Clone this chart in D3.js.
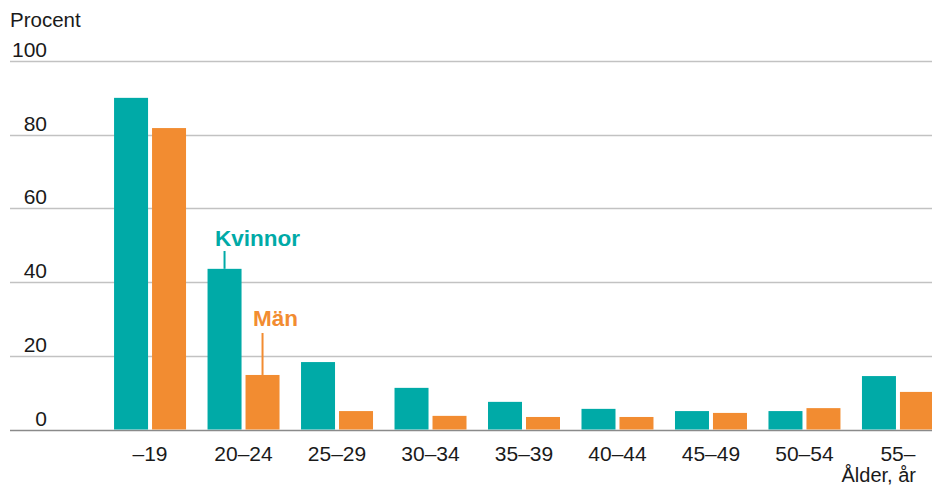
<!DOCTYPE html>
<html>
<head>
<meta charset="utf-8">
<script src="https://cdn.jsdelivr.net/npm/d3@7/dist/d3.min.js"></script>
<style>
  html, body { margin: 0; padding: 0; background: #fff; }
  svg { display: block; font-family: Helvetica, Arial, "Liberation Sans", sans-serif; }
</style>
</head>
<body>
<svg id="chart" width="932" height="491"></svg>
<script>
// data
const ageGroups = ['–19', '20–24', '25–29', '30–34', '35–39', '40–44', '45–49', '50–54', '55–'];
const kvinnor = [90.0, 43.6, 18.3, 11.3, 7.5, 5.6, 5.0, 5.0, 14.5];
const man = [81.8, 14.8, 5.0, 3.7, 3.4, 3.4, 4.5, 5.8, 10.2];
const yTicks = [0, 20, 40, 60, 80, 100];
const seriesNames = ['Kvinnor', 'Män'];
const colors = { 'Kvinnor': '#00aaa7', 'Män': '#f28c31' };

const svg = d3.select('#chart');
const width = 932;

let y = d3.scaleLinear()
  .domain([0, 100])
  .range([429.5, 61]);

let x = d3.scaleBand()
  .domain(ageGroups)
  .range([103.3, 944.7])
  .paddingInner(0.23)
  .paddingOuter(0.115);

let xs = d3.scaleBand()
  .domain(seriesNames)
  .range([0, x.bandwidth()])
  .paddingInner(0.105);

// gridlines
svg.append('g')
  .selectAll('line')
  .data(yTicks)
  .enter()
  .append('line')
  .attr('x1', 10)
  .attr('x2', width)
  .attr('y1', d => Math.round(y(d)) + 0.5)
  .attr('y2', d => Math.round(y(d)) + 0.5)
  .attr('stroke', d => d === 0 ? '#8a8a8a' : '#c2c2c2')
  .attr('stroke-width', 1.5);

// y labels sit on top of the gridlines
svg.append('g')
  .selectAll('text')
  .data(yTicks)
  .enter()
  .append('text')
  .attr('x', 47)
  .attr('y', d => y(d) - 4)
  .attr('text-anchor', 'end')
  .attr('font-size', 21)
  .attr('fill', '#1a1a1a')
  .text(d => d);

svg.append('text')
  .attr('x', 10)
  .attr('y', 27)
  .attr('font-size', 20.5)
  .attr('fill', '#1a1a1a')
  .text('Procent');

// bars
const rows = ageGroups.map((g, i) => ({ group: g, values: [
  { name: 'Kvinnor', value: kvinnor[i] },
  { name: 'Män', value: man[i] }
]}));

let groups = svg.append('g')
  .selectAll('g')
  .data(rows)
  .enter()
  .append('g')
  .attr('transform', d => 'translate(' + x(d.group) + ',0)');

groups.selectAll('rect')
  .data(d => d.values)
  .enter()
  .append('rect')
  .attr('x', d => xs(d.name))
  .attr('width', xs.bandwidth())
  .attr('y', d => y(d.value))
  .attr('height', d => y(0) - y(d.value))
  .attr('fill', d => colors[d.name]);

// x labels
svg.append('g')
  .selectAll('text')
  .data(ageGroups)
  .enter()
  .append('text')
  .attr('x', d => x(d) + x.bandwidth() / 2)
  .attr('y', 461)
  .attr('text-anchor', 'middle')
  .attr('font-size', 21)
  .attr('fill', '#1a1a1a')
  .text(d => d);

svg.append('text')
  .attr('x', 916)
  .attr('y', 482)
  .attr('text-anchor', 'end')
  .attr('font-size', 20)
  .attr('fill', '#1a1a1a')
  .text('Ålder, år');

// series labels with leader lines (on the 20–24 group)
const labelGroup = '20–24';
const li = ageGroups.indexOf(labelGroup);
const labels = [
  { name: 'Kvinnor', value: kvinnor[li], textY: 246, lineTop: 251 },
  { name: 'Män', value: man[li], textY: 326, lineTop: 333 }
];

labels.forEach(function(l) {
  let cx = x(labelGroup) + xs(l.name) + xs.bandwidth() / 2;
  svg.append('line')
    .attr('x1', cx)
    .attr('x2', cx)
    .attr('y1', l.lineTop)
    .attr('y2', y(l.value))
    .attr('stroke', colors[l.name])
    .attr('stroke-width', 2);
  svg.append('text')
    .attr('x', cx - 9.5)
    .attr('y', l.textY)
    .attr('font-size', 22.5)
    .attr('font-weight', 'bold')
    .attr('fill', colors[l.name])
    .text(l.name);
});
</script>
</body>
</html>
